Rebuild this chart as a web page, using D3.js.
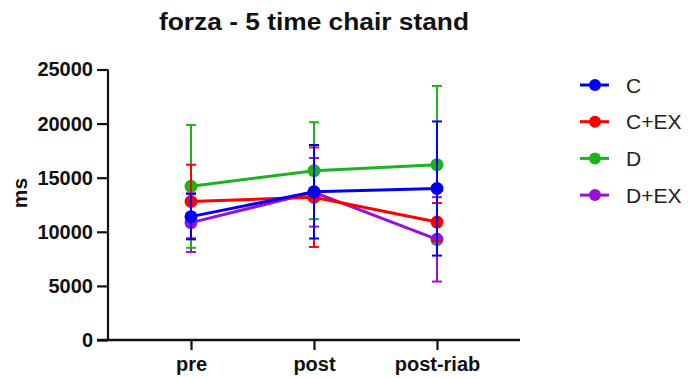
<!DOCTYPE html>
<html><head><meta charset="utf-8">
<script src="https://cdn.jsdelivr.net/npm/d3@7"></script>
<style>body{margin:0;background:#fff}svg{display:block}text{font-family:"Liberation Sans",Arial,sans-serif}</style>
</head><body>
<svg id="chart" width="688" height="378"></svg>
<script>
const categories = ["pre", "post", "post-riab"];
const seriesNames = ["C", "C+EX", "D", "D+EX"];
const seriesColors = ["#0000ff", "#ff0000", "#1db31d", "#9b10d6"];
const meanC   = [11400, 13700, 14000];
const sdC     = [2100, 4320, 6200];
const meanCEX = [12800, 13200, 10900];
const sdCEX   = [3400, 4600, 1760];
const meanD   = [14200, 15650, 16200];
const sdD     = [5680, 4480, 7280];
const meanDEX = [10850, 13650, 9300];
const sdDEX   = [2720, 3170, 3900];
const yTicks = [0, 5000, 10000, 15000, 20000, 25000];

const series = [
  {name: seriesNames[0], color: seriesColors[0], mean: meanC, sd: sdC},
  {name: seriesNames[1], color: seriesColors[1], mean: meanCEX, sd: sdCEX},
  {name: seriesNames[2], color: seriesColors[2], mean: meanD, sd: sdD},
  {name: seriesNames[3], color: seriesColors[3], mean: meanDEX, sd: sdDEX}
];

const svg = d3.select("#chart");
const x = d3.scalePoint().domain(categories).range([108, 520]).padding(0.675);
const y = d3.scaleLinear().domain([0, 25000]).range([340, 69.5]);

// title
svg.append("text").attr("x", 314).attr("y", 30).attr("text-anchor", "middle")
  .attr("font-size", 23).attr("font-weight", "bold").attr("fill", "#111")
  .attr("textLength", 310).attr("lengthAdjust", "spacingAndGlyphs")
  .text("forza - 5 time chair stand");

// y axis label
svg.append("text").attr("transform", "translate(27,193) rotate(-90)")
  .attr("text-anchor", "middle").attr("font-size", 21).attr("font-weight", "bold").attr("fill", "#111")
  .text("ms");

// y axis
const yAxis = svg.append("g").attr("transform", "translate(108,0)")
  .call(d3.axisLeft(y).tickValues(yTicks).tickSize(11).tickPadding(4).tickFormat(d3.format("d")));
yAxis.select(".domain").attr("stroke", "#111").attr("stroke-width", 2.2).attr("d", "M0,69.5V340");
yAxis.selectAll(".tick line").attr("stroke", "#111").attr("stroke-width", 2.2);
yAxis.selectAll("text").attr("font-size", 20).attr("font-weight", "bold").attr("fill", "#111")
  .attr("font-family", "'Liberation Sans',Arial,sans-serif");

// x axis
const xAxis = svg.append("g").attr("transform", "translate(0,340)")
  .call(d3.axisBottom(x).tickSize(10).tickPadding(4));
xAxis.select(".domain").attr("stroke", "#111").attr("stroke-width", 2.4).attr("d", "M97,0H520");
xAxis.selectAll(".tick line").attr("stroke", "#111").attr("stroke-width", 2.2);
xAxis.selectAll("text").attr("font-size", 20).attr("font-weight", "bold").attr("fill", "#111")
  .attr("y", 31).attr("dy", 0).attr("font-family", "'Liberation Sans',Arial,sans-serif");

// data (draw last series first so C is on top)
const line = d3.line().x((d, i) => x(categories[i])).y(d => y(d));
series.slice().reverse().forEach(s => {
  const g = svg.append("g");
  s.mean.forEach((m, i) => {
    const cx = x(categories[i]);
    const lo = y(m - s.sd[i]), hi = y(m + s.sd[i]);
    g.append("line").attr("x1", cx).attr("x2", cx).attr("y1", lo).attr("y2", hi)
      .attr("stroke", s.color).attr("stroke-width", 2);
    [lo, hi].forEach(yy => g.append("line").attr("x1", cx - 5).attr("x2", cx + 5)
      .attr("y1", yy).attr("y2", yy).attr("stroke", s.color).attr("stroke-width", 2));
  });
  g.append("path").datum(s.mean).attr("d", line).attr("fill", "none")
    .attr("stroke", s.color).attr("stroke-width", 3);
  g.selectAll("circle").data(s.mean).enter().append("circle")
    .attr("cx", (d, i) => x(categories[i])).attr("cy", d => y(d)).attr("r", 6.5)
    .attr("fill", s.color);
});

// legend
const leg = svg.append("g");
series.forEach((s, i) => {
  const cy = 85 + i * 36.7;
  leg.append("line").attr("x1", 580).attr("x2", 609).attr("y1", cy).attr("y2", cy)
    .attr("stroke", s.color).attr("stroke-width", 3);
  leg.append("circle").attr("cx", 595).attr("cy", cy).attr("r", 6).attr("fill", s.color);
  leg.append("text").attr("x", 626).attr("y", cy + 7.5).attr("font-size", 21).attr("fill", "#222")
    .text(s.name);
});
</script>
</body></html>
